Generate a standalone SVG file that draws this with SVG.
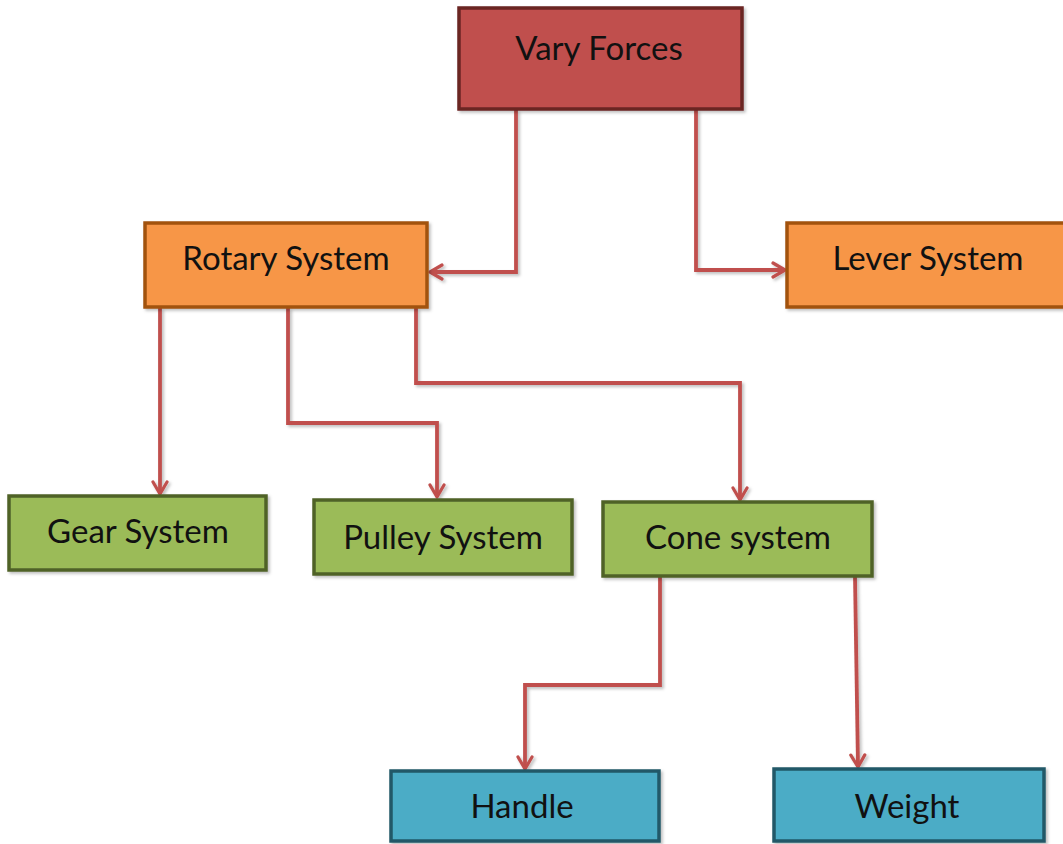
<svg xmlns="http://www.w3.org/2000/svg" width="1063" height="844" viewBox="0 0 1063 844">
<defs>
<marker id="arr" viewBox="0 0 16 18" refX="14" refY="9" markerWidth="16" markerHeight="18" markerUnits="userSpaceOnUse" orient="auto">
<path d="M2,2 L14,9 L2,16" fill="none" stroke="#C0504D" stroke-width="3.2" stroke-linecap="round" stroke-linejoin="round"/>
</marker>
<filter id="sh" filterUnits="userSpaceOnUse" x="0" y="0" width="1063" height="844">
<feDropShadow dx="2" dy="2" stdDeviation="1.5" flood-color="#000" flood-opacity="0.25"/>
</filter>
</defs>
<style>
.t{font-family:Lato,"Open Sans","Liberation Sans",sans-serif;font-size:33px;fill:#111;text-anchor:middle;dominant-baseline:central}
.red{fill:#C0504D;stroke:#6A2523;stroke-width:3.5}
.org{fill:#F79646;stroke:#A2520F;stroke-width:3.5}
.grn{fill:#9BBB59;stroke:#4F6228;stroke-width:3.5}
.blu{fill:#4BACC6;stroke:#205867;stroke-width:3.5}
.c{fill:none;stroke:#C0504D;stroke-width:3.8;stroke-linejoin:miter;marker-end:url(#arr)}
</style>
<rect width="1063" height="844" fill="#fff"/>
<g id="connectors" filter="url(#sh)">
<path class="c" d="M516,110 V272 H430"/>
<path class="c" d="M696,110 V270 H785"/>
<path class="c" d="M160,308 V494"/>
<path class="c" d="M288,308 V423 H437 V497"/>
<path class="c" d="M416,308 V383 H740 V500"/>
<path class="c" d="M660,577 V685 H525 V769"/>
<path class="c" d="M855,577 L858,767"/>
</g>
<g id="vary"><rect class="red" x="459" y="8" width="283" height="101" filter="url(#sh)"/><text class="t" x="599" y="47">Vary Forces</text></g>
<g id="rotary"><rect class="org" x="145" y="223" width="282" height="84" filter="url(#sh)"/><text class="t" x="286" y="257">Rotary System</text></g>
<g id="lever"><rect class="org" x="787" y="223" width="280" height="84" filter="url(#sh)"/><text class="t" x="928" y="257">Lever System</text></g>
<g id="gear"><rect class="grn" x="9" y="496" width="257" height="74" filter="url(#sh)"/><text class="t" x="138" y="530">Gear System</text></g>
<g id="pulley"><rect class="grn" x="314" y="500" width="258" height="74" filter="url(#sh)"/><text class="t" x="443" y="536">Pulley System</text></g>
<g id="cone"><rect class="grn" x="603" y="502" width="269" height="74" filter="url(#sh)"/><text class="t" x="738" y="536">Cone system</text></g>
<g id="handle"><rect class="blu" x="391" y="771" width="268" height="70" filter="url(#sh)"/><text class="t" x="522" y="805">Handle</text></g>
<g id="weight"><rect class="blu" x="774" y="769" width="270" height="72" filter="url(#sh)"/><text class="t" x="907" y="805">Weight</text></g>
</svg>
